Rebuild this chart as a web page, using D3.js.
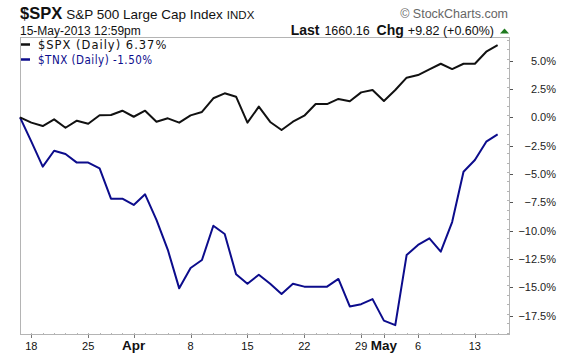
<!DOCTYPE html>
<html><head><meta charset="utf-8">
<script src="https://cdn.jsdelivr.net/npm/d3@7"></script>
<style>body{margin:0;background:#fff}svg{display:block}</style>
</head><body>
<script>
const days = ["2013-03-15","2013-03-18","2013-03-19","2013-03-20","2013-03-21","2013-03-22",
"2013-03-25","2013-03-26","2013-03-27","2013-03-28",
"2013-04-01","2013-04-02","2013-04-03","2013-04-04","2013-04-05",
"2013-04-08","2013-04-09","2013-04-10","2013-04-11","2013-04-12",
"2013-04-15","2013-04-16","2013-04-17","2013-04-18","2013-04-19",
"2013-04-22","2013-04-23","2013-04-24","2013-04-25","2013-04-26",
"2013-04-29","2013-04-30","2013-05-01","2013-05-02","2013-05-03",
"2013-05-06","2013-05-07","2013-05-08","2013-05-09","2013-05-10",
"2013-05-13","2013-05-14","2013-05-15"];
const spx = [0,-0.47,-0.77,-0.18,-0.92,-0.30,-0.57,0.18,0.20,0.58,
0.05,0.58,-0.39,-0.09,-0.47,0.17,0.47,1.68,2.12,1.82,
-0.47,0.94,-0.41,-1.12,-0.39,0.14,1.17,1.17,1.62,1.41,
2.20,2.41,1.44,2.41,3.50,3.73,4.23,4.73,4.26,4.73,
4.73,5.79,6.37];
const tnx = [0,-2.15,-4.36,-2.95,-3.24,-4.0,-4.0,-4.5,-7.18,-7.18,
-7.74,-6.8,-9.06,-11.7,-15.1,-13.3,-12.6,-9.57,-10.3,-13.86,
-14.7,-13.9,-14.7,-15.6,-14.7,-14.95,-14.95,-14.95,-14.27,-16.7,
-16.5,-16.05,-17.95,-18.35,-12.15,-11.27,-10.68,-11.86,-9.25,-4.8,
-3.77,-2.15,-1.5];
const xTickDays = ["2013-03-18","2013-03-25","2013-04-01","2013-04-08","2013-04-15","2013-04-22","2013-04-29","2013-05-01","2013-05-06","2013-05-13"];
const xTickLabels = ["18","25","Apr","8","15","22","29","May","6","13"];
const xTickBold = [false,false,true,false,false,false,false,true,false,false];
const yTicks = [5,2.5,0,-2.5,-5,-7.5,-10,-12.5,-15,-17.5];

const W=575,H=355, L=20,R=509,T=37,B=334;
const svg=d3.select("body").append("svg").attr("width",W).attr("height",H);
const x=d3.scaleLinear().domain([0,43]).range([L,R]);
const y=d3.scaleLinear().domain([-19.13,7.09]).range([B,T]);
const F="Arial, 'Liberation Sans', sans-serif";

// frame
svg.append("rect").attr("x",L+0.5).attr("y",T+0.5).attr("width",R-L).attr("height",B-T)
  .attr("fill","none").attr("stroke","#b4b4b4").attr("stroke-width",1);

// y minor ticks (inside, along right border)
const minor=d3.range(-19,7.1,2.5/3);
svg.append("g").selectAll("line").data(minor).join("line")
  .attr("x1",R-2).attr("x2",R+0.5).attr("y1",d=>Math.round(y(d))+0.5).attr("y2",d=>Math.round(y(d))+0.5)
  .attr("stroke","#b4b4b4");
// y major ticks outside
svg.append("g").selectAll("line").data(yTicks).join("line")
  .attr("x1",R+1).attr("x2",R+4).attr("y1",d=>Math.round(y(d))+0.5).attr("y2",d=>Math.round(y(d))+0.5)
  .attr("stroke","#555");
svg.append("g").selectAll("text").data(yTicks).join("text")
  .attr("x",556).attr("y",d=>y(d)+4).attr("text-anchor","end")
  .attr("font-family",F).attr("font-size",11).attr("fill","#222")
  .text(d=>d3.format(".1f")(d)+"%");

// x minor ticks for each trading day
svg.append("g").selectAll("line").data(days).join("line")
  .attr("x1",(d,i)=>Math.round(x(i))+0.5).attr("x2",(d,i)=>Math.round(x(i))+0.5)
  .attr("y1",B-1).attr("y2",B+0.5).attr("stroke","#b4b4b4");
svg.append("g").selectAll("line").data(xTickDays).join("line")
  .attr("x1",d=>Math.round(x(days.indexOf(d)))+0.5).attr("x2",d=>Math.round(x(days.indexOf(d)))+0.5)
  .attr("y1",B+1).attr("y2",B+4).attr("stroke","#777");
svg.append("g").selectAll("text").data(xTickDays).join("text")
  .attr("x",d=>x(days.indexOf(d))).attr("y",350).attr("text-anchor","middle")
  .attr("font-family",F).attr("font-size",(d,i)=>xTickBold[i]?13.5:11)
  .attr("font-weight",(d,i)=>xTickBold[i]?"bold":"normal").attr("fill","#111")
  .text((d,i)=>xTickLabels[i]);

// lines
const line=d3.line().x((d,i)=>x(i)).y(d=>y(d));
svg.append("path").datum(tnx).attr("d",line).attr("fill","none").attr("stroke","#0c0c8c").attr("stroke-width",2).attr("stroke-linejoin","round");
svg.append("path").datum(spx).attr("d",line).attr("fill","none").attr("stroke","#111").attr("stroke-width",2).attr("stroke-linejoin","round");

// legend
svg.append("line").attr("x1",21).attr("x2",30).attr("y1",44.5).attr("y2",44.5).attr("stroke","#111").attr("stroke-width",2.5);
svg.append("text").attr("x",38).attr("y",49).attr("font-family","'DejaVu Sans', Verdana, sans-serif").attr("font-size",11.5).attr("letter-spacing",1).attr("fill","#111").text("$SPX (Daily) 6.37%");
svg.append("line").attr("x1",21).attr("x2",30).attr("y1",59.5).attr("y2",59.5).attr("stroke","#0c0c8c").attr("stroke-width",2.5);
svg.append("text").attr("x",38).attr("y",63.5).attr("font-family","'DejaVu Sans Condensed', sans-serif").attr("font-size",11.5).attr("letter-spacing",0.5).attr("fill","#0c0c8c").text("$TNX (Daily) -1.50%");

// header
const t1=svg.append("text").attr("x",20).attr("y",18.5).attr("font-family",F).attr("fill","#111");
t1.append("tspan").attr("font-size",16.5).attr("font-weight","bold").text("$SPX");
t1.append("tspan").attr("font-size",13.5).attr("dx",4).text("S&P 500 Large Cap Index");
t1.append("tspan").attr("font-size",11.5).attr("dx",4).text("INDX");
svg.append("text").attr("x",20).attr("y",35).attr("font-family",F).attr("font-size",12).attr("fill","#111").text("15-May-2013 12:59pm");
svg.append("text").attr("x",508).attr("y",18).attr("text-anchor","end").attr("font-family",F).attr("font-size",12.5).attr("fill","#666").text("© StockCharts.com");
const t2=svg.append("text").attr("x",494).attr("y",35).attr("text-anchor","end").attr("font-family",F).attr("fill","#111");
t2.append("tspan").attr("font-size",14).attr("font-weight","bold").text("Last");
t2.append("tspan").attr("font-size",12.5).attr("dx",5).text("1660.16");
t2.append("tspan").attr("font-size",14).attr("font-weight","bold").attr("dx",7).text("Chg");
t2.append("tspan").attr("font-size",12.5).attr("dx",4).text("+9.82 (+0.60%)");
svg.append("path").attr("d","M500,33.5 L504.5,28.5 L509,33.5 Z").attr("fill","#1f7a1f");
</script>
</body></html>
